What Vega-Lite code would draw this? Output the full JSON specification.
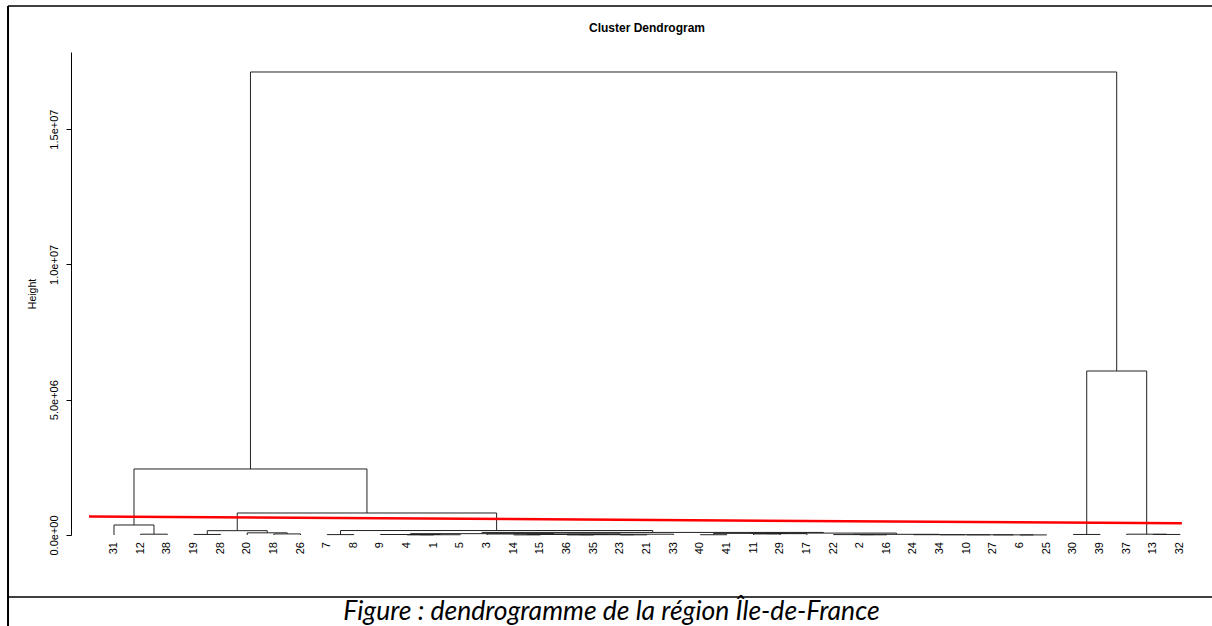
{
  "$schema": "https://vega.github.io/schema/vega-lite/v6.json",
  "width": 1141,
  "height": 483,
  "autosize": {"type": "none"},
  "padding": {"left": 71, "top": 52, "right": 0, "bottom": 91},
  "background": "white",
  "config": {"view": {"stroke": null}, "font": "Liberation Sans"},
  "datasets": {
    "merges": [
      {"xl":2,"xr":3,"h":30000,"hl":0,"hr":0},
      {"xl":1,"xr":2.5,"h":370000,"hl":0,"hr":30000},
      {"xl":4,"xr":5,"h":20000,"hl":0,"hr":0},
      {"xl":7,"xr":8,"h":40000,"hl":0,"hr":0},
      {"xl":6,"xr":7.5,"h":80000,"hl":0,"hr":40000},
      {"xl":4.5,"xr":6.75,"h":160000,"hl":20000,"hr":80000},
      {"xl":9,"xr":10,"h":15000,"hl":0,"hr":0},
      {"xl":12,"xr":13,"h":5000,"hl":0,"hr":0},
      {"xl":12.5,"xr":14,"h":10000,"hl":5000,"hr":0},
      {"xl":11,"xr":13.25,"h":18000,"hl":0,"hr":10000},
      {"xl":16,"xr":17,"h":5000,"hl":0,"hr":0},
      {"xl":18,"xr":19,"h":4000,"hl":0,"hr":0},
      {"xl":20,"xr":21,"h":6000,"hl":0,"hr":0},
      {"xl":18.5,"xr":20.5,"h":12000,"hl":4000,"hr":6000},
      {"xl":16.5,"xr":19.5,"h":20000,"hl":5000,"hr":12000},
      {"xl":18,"xr":22,"h":30000,"hl":20000,"hr":0},
      {"xl":15,"xr":20,"h":40000,"hl":0,"hr":30000},
      {"xl":12.125,"xr":17.5,"h":50000,"hl":18000,"hr":40000},
      {"xl":23,"xr":24,"h":10000,"hl":0,"hr":0},
      {"xl":25,"xr":26,"h":40000,"hl":0,"hr":0},
      {"xl":25.5,"xr":27,"h":50000,"hl":40000,"hr":0},
      {"xl":23.5,"xr":26.25,"h":60000,"hl":10000,"hr":50000},
      {"xl":29,"xr":30,"h":8000,"hl":0,"hr":0},
      {"xl":28,"xr":29.5,"h":15000,"hl":0,"hr":8000},
      {"xl":35,"xr":36,"h":3000,"hl":0,"hr":0},
      {"xl":34,"xr":35.5,"h":5000,"hl":0,"hr":3000},
      {"xl":33,"xr":34.75,"h":7000,"hl":0,"hr":5000},
      {"xl":32,"xr":33.875,"h":9000,"hl":0,"hr":7000},
      {"xl":31,"xr":32.9375,"h":12000,"hl":0,"hr":9000},
      {"xl":28.75,"xr":31.96875,"h":25000,"hl":15000,"hr":12000},
      {"xl":24.875,"xr":30.359375,"h":70000,"hl":60000,"hr":25000},
      {"xl":14.8125,"xr":27.6171875,"h":95000,"hl":50000,"hr":70000},
      {"xl":9.5,"xr":21.21484375,"h":165000,"hl":15000,"hr":95000},
      {"xl":5.625,"xr":15.357421875,"h":813000,"hl":160000,"hr":165000},
      {"xl":1.75,"xr":10.4912109375,"h":2440000,"hl":370000,"hr":813000},
      {"xl":37,"xr":38,"h":20000,"hl":0,"hr":0},
      {"xl":40,"xr":41,"h":20000,"hl":0,"hr":0},
      {"xl":39,"xr":40.5,"h":30000,"hl":0,"hr":20000},
      {"xl":37.5,"xr":39.75,"h":6060000,"hl":20000,"hr":30000},
      {"xl":6.12060546875,"xr":38.625,"h":17110000,"hl":2440000,"hr":6060000}
    ],
    "leaves": [
      {"pos":1,"label":"31"},{"pos":2,"label":"12"},{"pos":3,"label":"38"},{"pos":4,"label":"19"},
      {"pos":5,"label":"28"},{"pos":6,"label":"20"},{"pos":7,"label":"18"},{"pos":8,"label":"26"},
      {"pos":9,"label":"7"},{"pos":10,"label":"8"},{"pos":11,"label":"9"},{"pos":12,"label":"4"},
      {"pos":13,"label":"1"},{"pos":14,"label":"5"},{"pos":15,"label":"3"},{"pos":16,"label":"14"},
      {"pos":17,"label":"15"},{"pos":18,"label":"36"},{"pos":19,"label":"35"},{"pos":20,"label":"23"},
      {"pos":21,"label":"21"},{"pos":22,"label":"33"},{"pos":23,"label":"40"},{"pos":24,"label":"41"},
      {"pos":25,"label":"11"},{"pos":26,"label":"29"},{"pos":27,"label":"17"},{"pos":28,"label":"22"},
      {"pos":29,"label":"2"},{"pos":30,"label":"16"},{"pos":31,"label":"24"},{"pos":32,"label":"34"},
      {"pos":33,"label":"10"},{"pos":34,"label":"27"},{"pos":35,"label":"6"},{"pos":36,"label":"25"},
      {"pos":37,"label":"30"},{"pos":38,"label":"39"},{"pos":39,"label":"37"},{"pos":40,"label":"13"},
      {"pos":41,"label":"32"}
    ]
  },
  "layer": [
    {
      "data": {"name": "merges"},
      "mark": {"type": "rule", "color": "#222222", "strokeWidth": 1},
      "encoding": {
        "x": {"field": "xl", "type": "quantitative", "scale": {"domain": [-0.6135, 42.201], "nice": false, "zero": false}, "axis": null},
        "x2": {"field": "xr"},
        "y": {"field": "h", "type": "quantitative", "scale": {"domain": [0, 17849000], "nice": false, "zero": false},
          "axis": {
            "values": [0, 5000000, 10000000, 15000000],
            "labelExpr": "datum.value == 0 ? '0.0e+00' : datum.value == 5000000 ? '5.0e+06' : datum.value == 10000000 ? '1.0e+07' : '1.5e+07'",
            "labelAngle": -90, "labelFontSize": 11, "labelColor": "black", "labelPadding": 7,
            "tickSize": 5, "tickColor": "black", "domainColor": "black", "grid": false,
            "title": "Height", "titleFontSize": 10.5, "titleFontWeight": "normal", "titleColor": "black", "titlePadding": 11
          }
        }
      }
    },
    {
      "data": {"name": "merges"},
      "mark": {"type": "rule", "color": "#222222", "strokeWidth": 1},
      "encoding": {
        "x": {"field": "xl", "type": "quantitative"},
        "y": {"field": "hl", "type": "quantitative"},
        "y2": {"field": "h"}
      }
    },
    {
      "data": {"name": "merges"},
      "mark": {"type": "rule", "color": "#222222", "strokeWidth": 1},
      "encoding": {
        "x": {"field": "xr", "type": "quantitative"},
        "y": {"field": "hr", "type": "quantitative"},
        "y2": {"field": "h"}
      }
    },
    {
      "data": {"name": "leaves"},
      "mark": {"type": "text", "angle": 270, "align": "right", "baseline": "middle", "dx": -7, "dy": 0, "fontSize": 11, "color": "black", "font": "Liberation Sans"},
      "encoding": {
        "x": {"field": "pos", "type": "quantitative"},
        "y": {"datum": 0, "type": "quantitative"},
        "text": {"field": "label"}
      }
    },
    {
      "data": {"values": [{"cut": "k"}]},
      "mark": {"type": "rule", "color": "#ff0000", "strokeWidth": 2.5},
      "encoding": {
        "x": {"datum": 0.062, "type": "quantitative"},
        "x2": {"datum": 41.07},
        "y": {"datum": 684000, "type": "quantitative"},
        "y2": {"datum": 432000}
      }
    },
    {
      "data": {"values": [{"side": "top"}]},
      "mark": {"type": "rule", "color": "black", "strokeWidth": 1.5},
      "encoding": {
        "x": {"datum": -2.977, "type": "quantitative"},
        "x2": {"datum": 42.201},
        "y": {"datum": 19549000, "type": "quantitative"}
      }
    },
    {
      "data": {"values": [{"side": "bottom"}]},
      "mark": {"type": "rule", "color": "black", "strokeWidth": 1.5},
      "encoding": {
        "x": {"datum": -2.977, "type": "quantitative"},
        "x2": {"datum": 42.201},
        "y": {"datum": -2291000, "type": "quantitative"}
      }
    },
    {
      "data": {"values": [{"side": "left"}]},
      "mark": {"type": "rule", "color": "black", "strokeWidth": 2},
      "encoding": {
        "x": {"datum": -2.977, "type": "quantitative"},
        "y": {"datum": 19549000, "type": "quantitative"},
        "y2": {"datum": -3400000}
      }
    },
    {
      "data": {"values": [{"title": "Cluster Dendrogram"}]},
      "mark": {"type": "text", "align": "center", "baseline": "alphabetic", "fontWeight": "bold", "font": "Liberation Sans", "fontSize": 12, "color": "black"},
      "encoding": {
        "x": {"datum": 21.0, "type": "quantitative"},
        "y": {"datum": 18588000, "type": "quantitative"},
        "text": {"field": "title"}
      }
    },
    {
      "data": {"values": [{"caption": "Figure : dendrogramme de la région Île-de-France"}]},
      "mark": {"type": "text", "align": "center", "baseline": "alphabetic", "fontStyle": "italic", "font": "Lato", "fontSize": 26.5, "color": "black"},
      "encoding": {
        "x": {"datum": 19.668, "type": "quantitative"},
        "y": {"datum": -3141000, "type": "quantitative"},
        "text": {"field": "caption"}
      }
    }
  ]
}
